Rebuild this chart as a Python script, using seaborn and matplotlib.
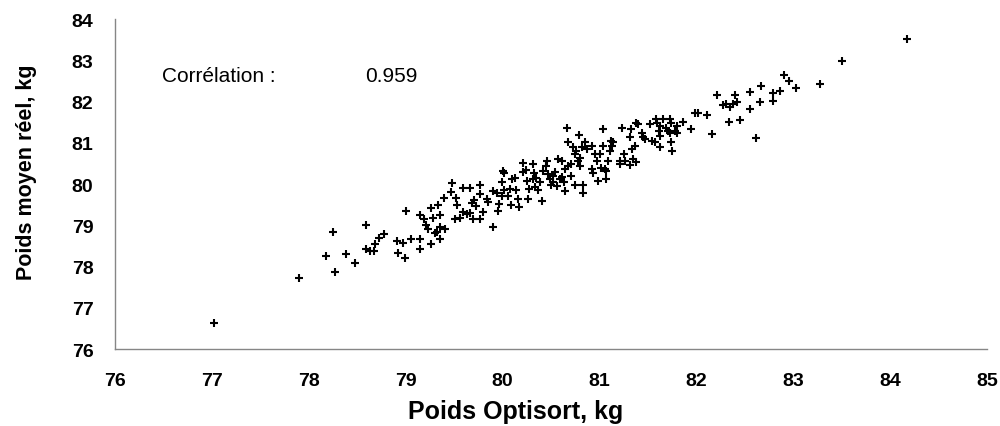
import matplotlib
matplotlib.use("Agg")
import matplotlib.pyplot as plt
import seaborn as sns
import pandas as pd

# Poids Optisort (kg) and Poids moyen réel (kg)
optisort = [
    77.02, 77.90, 78.25, 78.18, 78.38, 78.48, 78.27,
    78.59, 78.59, 78.63, 78.67, 78.68, 78.72, 78.78, 78.91, 78.97, 78.92, 78.99,
    79.00, 79.05, 79.15, 79.15, 79.26, 79.35, 79.15, 79.19, 79.26, 79.33, 79.28,
    79.35, 79.21, 79.23, 79.30, 79.32, 79.35, 79.41, 79.53, 79.51, 79.56, 79.59,
    79.63, 79.66, 79.70, 79.68, 79.73,
    79.40, 79.47, 79.48, 79.52, 79.59, 79.66, 79.71, 79.77, 79.77, 79.80, 79.84,
    79.85, 79.77, 79.90, 79.90, 79.94, 79.96, 80.00, 79.99, 80.02, 79.99, 80.02,
    80.06, 80.08, 80.09, 80.10, 80.13, 80.14, 80.16, 80.17,
    80.21, 80.21, 80.24, 80.25, 80.27, 80.26, 80.31, 80.32, 80.31, 80.35, 80.33,
    80.37, 80.41, 80.39, 80.42, 80.45, 80.46, 80.47, 80.49, 80.52, 80.50, 80.52,
    80.54, 80.56, 80.57, 80.59, 80.61, 80.61, 80.63, 80.64, 80.64, 80.66, 80.68,
    80.68, 80.71, 80.71, 80.73, 80.75, 80.76, 80.78, 80.79, 80.80, 80.82, 80.80,
    80.83, 80.83, 80.85, 80.87, 80.92, 80.92, 80.93, 80.95, 80.97, 80.99, 81.01,
    81.02, 81.04, 81.04, 81.06, 81.07, 81.07, 81.09, 81.11, 81.12, 81.13, 81.14,
    81.21, 81.21, 81.23, 81.25, 81.26, 81.33, 81.32, 81.34, 81.35, 81.38, 81.37,
    81.38, 81.40, 81.44, 81.45, 81.47, 81.52, 81.54, 81.57, 81.58, 81.61, 81.62,
    81.63, 81.62, 81.66, 81.69, 81.71, 81.73, 81.74, 81.75, 81.78, 81.80,
    79.95, 80.75,
    82.21, 82.40, 82.55, 82.79, 82.79, 82.66, 82.28, 82.31, 82.35, 82.38, 82.42,
    82.55, 82.34, 82.45, 82.16, 82.62, 81.99, 82.02, 82.11, 81.86, 81.94, 81.32,
    81.59, 81.74, 81.73, 81.80,
    84.17, 83.50, 83.28, 82.90, 82.96, 83.03, 82.67, 82.86,
]
reel = [
    76.64, 77.73, 78.84, 78.26, 78.30, 78.09, 77.87,
    79.01, 78.43, 78.39, 78.39, 78.56, 78.69, 78.80, 78.62, 78.58, 78.32, 78.21,
    79.36, 78.66, 78.66, 78.43, 78.54, 78.66, 79.25, 79.15, 79.41, 79.49, 79.19,
    79.24, 79.00, 78.92, 78.81, 78.85, 78.97, 78.92, 79.49, 79.15, 79.19, 79.33,
    79.27, 79.31, 79.15, 79.55, 79.47,
    79.67, 79.81, 80.02, 79.67, 79.91, 79.91, 79.61, 79.97, 79.75, 79.32, 79.65,
    79.57, 79.16, 78.97, 79.83, 79.79, 79.51, 80.32, 80.05, 80.28, 79.71, 79.85,
    79.71, 79.89, 79.49, 80.12, 80.16, 79.85, 79.63, 79.45,
    80.50, 80.29, 80.33, 80.08, 79.87, 79.63, 80.48, 80.26, 80.12, 80.16, 79.94,
    79.85, 79.59, 80.04, 80.32, 80.44, 80.56, 80.24, 80.12, 80.20, 79.97, 80.04,
    80.29, 79.95, 80.62, 80.12, 80.56, 80.18, 80.04, 79.83, 80.36, 81.37, 81.01,
    80.44, 80.48, 80.20, 80.89, 80.72, 80.80, 80.56, 81.18, 80.44, 80.89, 80.64,
    79.99, 79.79, 81.01, 80.84, 80.93, 80.36, 80.26, 80.72, 80.56, 80.08, 80.72,
    80.40, 81.33, 80.93, 80.36, 80.12, 80.32, 80.56, 80.80, 81.05, 80.93, 81.01,
    80.56, 80.48, 81.35, 80.72, 80.56, 81.33, 81.15, 80.84, 80.60, 80.54, 80.93,
    81.49, 81.45, 81.25, 81.13, 81.09, 81.45, 81.05, 81.01, 81.57, 81.29, 81.41,
    80.89, 81.17, 81.57, 81.37, 81.29, 81.57, 81.01, 80.80, 81.29, 81.41,
    79.35, 79.97,
    82.16, 82.16, 82.24, 82.20, 82.02, 81.98, 81.91, 81.94, 81.86, 81.94, 81.99,
    81.82, 81.51, 81.55, 81.21, 81.11, 81.72, 81.72, 81.68, 81.51, 81.33, 80.46,
    81.49, 81.49, 81.25, 81.25,
    83.51, 82.99, 82.42, 82.65, 82.50, 82.34, 82.38, 82.26,
]
x_ticks = [76, 77, 78, 79, 80, 81, 82, 83, 84, 85]
y_ticks = [76, 77, 78, 79, 80, 81, 82, 83, 84]
corr_label = "Corrélation :"
corr_value = "0.959"

sns.set_style("white")
plt.rcParams["font.family"] = ["Liberation Sans", "DejaVu Sans"]
plt.rcParams["text.color"] = "black"
plt.rcParams["axes.labelcolor"] = "black"
plt.rcParams["xtick.labelcolor"] = "black"
plt.rcParams["ytick.labelcolor"] = "black"

df = pd.DataFrame({"optisort": optisort, "reel": reel})

fig = plt.figure(figsize=(10, 4.27), dpi=100)
ax = fig.add_axes([0.115, 0.18, 0.872, 0.773])

sns.scatterplot(data=df, x="optisort", y="reel", marker="+", color="black",
                s=32, linewidth=1.5, ax=ax)

ax.set_xlim(76, 85)
ax.set_ylim(76, 84)
ax.set_xticks(x_ticks)
ax.set_yticks(y_ticks)
ax.set_xticklabels([str(v) for v in x_ticks], fontsize=14, fontweight="bold",
                   color="black")
ax.set_yticklabels([str(v) for v in y_ticks], fontsize=14, fontweight="bold",
                   color="black")
ax.tick_params(axis="both", direction="out", length=4.5, width=1, color="#868686")
ax.tick_params(axis="x", pad=12)
ax.tick_params(axis="y", pad=11)

for side in ["top", "right"]:
    ax.spines[side].set_visible(False)
for side in ["left", "bottom"]:
    ax.spines[side].set_color("#868686")
    ax.spines[side].set_linewidth(1)

ax.set_xlabel("Poids Optisort, kg", fontsize=18, fontweight="bold", color="black")
ax.set_ylabel("Poids moyen réel, kg", fontsize=15.5, fontweight="bold", color="black")
ax.xaxis.set_label_coords(0.459, -0.152)
ax.yaxis.set_label_coords(-0.09, 0.539)

ax.text(76.49, 82.63, corr_label, fontsize=15, va="center", ha="left", color="black")
ax.text(78.58, 82.63, corr_value, fontsize=15, va="center", ha="left", color="black")

fig.savefig("out.png", dpi=100)
